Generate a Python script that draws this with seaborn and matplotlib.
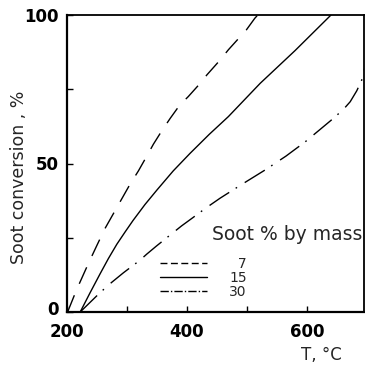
import numpy as np
import pandas as pd
import matplotlib
matplotlib.use("Agg")
import matplotlib.pyplot as plt
import matplotlib.transforms as mtransforms
import seaborn as sns
from matplotlib.lines import Line2D
from matplotlib.ticker import MultipleLocator

# ---- data ----
t_7 = [201, 216, 236, 250, 263, 277, 291, 305, 319, 333, 344, 358, 372, 388, 402, 422, 433, 455, 469, 486, 499, 513, 518]
c_7 = [0, 7.5, 16.5, 22.5, 28, 33, 38, 43, 47.5, 52.5, 56.5, 61, 65.2, 69.7, 72.5, 77, 79.8, 84.8, 88.3, 92.1, 95, 98.9, 100]

t_15 = [222, 238, 255, 269, 283, 297, 310, 330, 350, 377, 405, 437, 469, 522, 580, 633, 640]
c_15 = [0, 6.3, 12.8, 18, 22.8, 27, 30.8, 36.2, 41.1, 47.5, 53.4, 59.8, 65.8, 77, 88, 98.6, 100]

t_30 = [222, 255, 274, 294, 322, 333, 349, 365, 391, 410, 430, 455, 490, 530, 565, 597, 622, 644, 661, 672, 683, 691, 695, 697]
c_30 = [0, 6.5, 9.9, 13.2, 17.5, 19.5, 22.2, 24.8, 29, 31.8, 34.8, 38.3, 42.8, 47.8, 52.5, 57.3, 61.5, 65.2, 68.3, 70.8, 74.5, 78, 81, 83]

series_labels = ["7", "15", "30"]
legend_title = "Soot % by mass"
x_ticks = [200, 400, 600]
y_ticks = [0, 50, 100]

df = pd.concat([
    pd.DataFrame({"T": t_7, "conv": c_7, "soot": "7"}),
    pd.DataFrame({"T": t_15, "conv": c_15, "soot": "15"}),
    pd.DataFrame({"T": t_30, "conv": c_30, "soot": "30"}),
], ignore_index=True)

sns.set_style("ticks")
plt.rcParams["font.family"] = ["DejaVu Sans"]

W, H = 365, 369
fig = plt.figure(figsize=(W / 100, H / 100), dpi=100)
L, R, T, B = 67, 364, 15, 312
ax = fig.add_axes([L / W, 1 - B / H, (R - L) / W, (B - T) / H])

dash_7 = (13, 9)
dash_30 = (17, 5.5, 1.2, 6.5)
dash_map = {"7": dash_7, "15": "", "30": dash_30}
sns.lineplot(data=df, x="T", y="conv", style="soot", style_order=series_labels,
             dashes=dash_map, color="black", linewidth=1.0, legend=False,
             sort=False, estimator=None, ax=ax)

ax.set_xlim(200, 695)
ax.set_ylim(0, 100)
ax.set_xticks(x_ticks)
ax.set_yticks(y_ticks)
ax.xaxis.set_minor_locator(MultipleLocator(100))
ax.yaxis.set_minor_locator(MultipleLocator(25))
ax.tick_params(which="both", direction="in", length=4, width=1.0, colors="black")
ax.tick_params(axis="y", which="major", labelsize=12, pad=6)
ax.tick_params(axis="x", which="major", labelsize=12, pad=8)
for lab in ax.get_xticklabels() + ax.get_yticklabels():
    lab.set_fontweight("bold")

# nudge the "0" label slightly up, as in the reference
zero_lab = ax.get_yticklabels()[0]
zero_lab.set_transform(zero_lab.get_transform() +
                       mtransforms.ScaledTranslation(0, 4 / 100, fig.dpi_scale_trans))

for side in ["left", "bottom"]:
    ax.spines[side].set_linewidth(1.6)
for side in ["top", "right"]:
    ax.spines[side].set_linewidth(1.3)
    ax.spines[side].set_visible(True)
for s in ax.spines.values():
    s.set_color("black")

ax.set_xlabel("T, °C", fontsize=12)
ax.xaxis.set_label_coords((321 - L) / (R - L), (B - 355) / (B - T))
ax.xaxis.label.set_va("center")
ax.set_ylabel("Soot conversion , %", fontsize=12.5)
ax.yaxis.set_label_coords((19 - L) / (R - L), (B - 177) / (B - T))
ax.yaxis.label.set_va("center")

# legend
handles = [Line2D([], [], color="black", lw=1.0, linestyle=ls)
           for ls in [(0, (5, 2.5)), "-", (0, (6, 1.5, 1, 1.5))]]
labels = ["\u2007" + series_labels[0], series_labels[1], series_labels[2]]
leg = ax.legend(handles, labels, loc="upper left",
                bbox_to_anchor=((150 - L) / (R - L), (B - 247) / (B - T)),
                frameon=False, fontsize=10, handlelength=3.4,
                handletextpad=1.6, labelspacing=0.0, borderpad=0.2)
ax.text((287 - L) / (R - L), (B - 235) / (B - T), legend_title,
        transform=ax.transAxes, ha="center", va="center", fontsize=13.5)

fig.savefig("out.png", dpi=100)
